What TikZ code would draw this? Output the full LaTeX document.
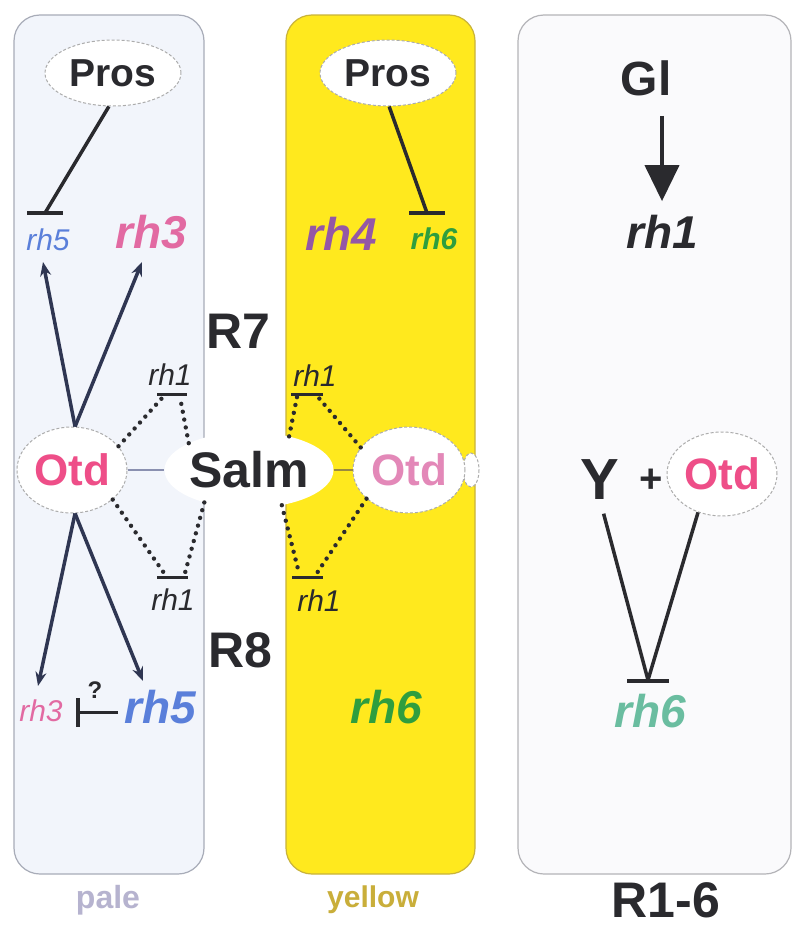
\documentclass[tikz,border=0pt]{standalone}
\usepackage{fontspec}
\setmainfont{Liberation Sans}
\usetikzlibrary{arrows.meta,shapes.geometric}

\definecolor{palefill}{HTML}{F2F5FB}
\definecolor{paleedge}{HTML}{A8ACB8}
\definecolor{yelfill}{HTML}{FFE91E}
\definecolor{yeledge}{HTML}{C9B33A}
\definecolor{rsfill}{HTML}{FAFAFC}
\definecolor{rsedge}{HTML}{B4B4B8}
\definecolor{ink}{HTML}{2A2A2E}
\definecolor{navy}{HTML}{2F3652}
\definecolor{otdpink}{HTML}{EE4E88}
\definecolor{otdpinkb}{HTML}{E388B8}
\definecolor{rhpink}{HTML}{E26AA2}
\definecolor{rhblue}{HTML}{5A7FDA}
\definecolor{rhpurple}{HTML}{9457A6}
\definecolor{rhgreen}{HTML}{2F9E3E}
\definecolor{rhteal}{HTML}{6ABDA0}
\definecolor{palelbl}{HTML}{B6B3CF}
\definecolor{yellbl}{HTML}{C9AE3A}
\definecolor{salmline}{HTML}{8A90B0}
\definecolor{olive}{HTML}{9A8A40}

\newcommand{\fsz}[1]{\fontsize{#1}{#1}\selectfont}

\begin{document}
\begin{tikzpicture}[x=1pt,y=-1pt,
  panel/.style={rounded corners=26pt, line width=1.2pt},
  oval/.style={ellipse, draw=gray!65, dashed, dash pattern=on 3pt off 2pt,
    line width=1pt, fill=white, inner sep=0pt},
  lbl/.style={inner sep=0pt, text=ink, font=\bfseries},
  rhbig/.style={inner sep=0pt, font=\fsz{46}\bfseries\itshape},
  rhsmall/.style={inner sep=0pt, font=\fsz{30}\itshape},
  act/.style={line width=3.5pt, draw=navy, -{Stealth[length=14pt,width=11pt]}},
  inh/.style={line width=3.5pt, draw=ink},
  dotl/.style={line width=4.4pt, draw=ink, line cap=round, dash pattern=on 0pt off 8pt},
  barl/.style={line width=3pt, draw=ink},
  vline/.style={line width=3.5pt, draw=ink}]

\useasboundingbox (0,0) rectangle (795,929);
\fill[white] (0,0) rectangle (795,929);

% panels
\draw[panel, fill=palefill, draw=paleedge] (14,15) rectangle (204,874);
\draw[panel, fill=yelfill, draw=yeledge] (286,15) rectangle (475,874);
\draw[panel, fill=rsfill, draw=rsedge] (518,15) rectangle (791,874);

% small bump right of yellow Otd
\draw[fill=white, draw=gray!65, dashed, dash pattern=on 3pt off 2pt, line width=1pt]
  (471,470) ellipse [x radius=8, y radius=17];

% ---------- pale ----------
\node[oval, minimum width=136pt, minimum height=66pt, font=\fsz{39}\bfseries, text=ink] (prosP) at (113,73) {Pros};
\node[rhsmall, text=rhblue] (rh5a) at (48,240) {rh5};
\node[rhbig, text=rhpink] (rh3a) at (151,232) {rh3};
\node[oval, minimum width=110pt, minimum height=86pt, font=\fsz{44}\bfseries, text=otdpink] (otdP) at (72,470) {Otd};
\node[rhsmall, text=ink] (rh1a) at (170,375) {rh1};
\node[rhsmall, text=ink] (rh1b) at (173,600) {rh1};
\node[rhsmall, text=rhpink] (rh3b) at (41,711) {rh3};
\node[rhbig, text=rhblue] (rh5b) at (160,707) {rh5};
\node[inner sep=0pt, font=\fsz{24}\bfseries, text=ink] (qm) at (95,690) {?};

\coordinate (tA) at (45,213);
\coordinate (aA) at (43,262);
\coordinate (aB) at (142,262);
\coordinate (aC) at (38,686);
\coordinate (aD) at (143,681);
\coordinate (b1l) at (163,397);
\coordinate (b1r) at (180,397);
\coordinate (b2l) at (164,573);
\coordinate (b2r) at (185,573);
\coordinate (q1) at (118,712);
\coordinate (q2) at (78,712);

\draw[inh] (prosP.-97) -- (tA);
\draw[barl, line width=3.5pt] (27,213) -- (63,213);
\draw[act] (otdP.86) -- (aA);
\draw[act] (otdP.86) -- (aB);
\draw[act] (otdP.-86) -- (aC);
\draw[act] (otdP.-86) -- (aD);
\draw[line width=3pt, draw=ink] (q1) -- (q2);
\draw[line width=3.5pt, draw=ink] (78,698) -- (78,727);

% ---------- yellow ----------
\node[oval, minimum width=136pt, minimum height=66pt, font=\fsz{39}\bfseries, text=ink] (prosY) at (388,73) {Pros};
\node[rhbig, text=rhpurple] (rh4) at (341,234) {rh4};
\node[rhsmall, text=rhgreen, font=\fsz{30}\bfseries\itshape] (rh6a) at (434,239) {rh6};
\node[oval, minimum width=112pt, minimum height=86pt, font=\fsz{44}\bfseries, text=otdpinkb] (otdY) at (409,470) {Otd};
\node[rhsmall, text=ink] (rh1c) at (315,376) {rh1};
\node[rhsmall, text=ink] (rh1d) at (319,601) {rh1};
\node[rhbig, text=rhgreen] (rh6b) at (386,707) {rh6};

\coordinate (tB) at (427,213);
\coordinate (c1l) at (297,397);
\coordinate (c1r) at (318,397);
\coordinate (c2l) at (299,573);
\coordinate (c2r) at (317,573);

\draw[inh] (prosY.-88) -- (tB);
\draw[barl, line width=3.5pt] (409,213) -- (445,213);

% ---------- Salm (covers panel edges) ----------
\node[ellipse, fill=white, inner sep=0pt, minimum width=142pt, minimum height=76pt,
  font=\fsz{50}\bfseries, text=ink] (salm) at (249,470) {Salm};

\draw[line width=1.5pt, draw=salmline] (otdP.east) -- (salm.west);
\draw[line width=1.5pt, draw=olive] (salm.east) -- (otdY.west);

% dotted repressions of rh1
\draw[dotl] (otdP.27) -- (b1l);
\draw[dotl] (salm.156) -- (b1r);
\draw[barl] (157,394) -- (187,394);
\draw[dotl] (otdP.-36) -- (b2l);
\draw[dotl] (salm.216) -- (b2r);
\draw[barl] (157,577) -- (188,577);

\draw[dotl] (salm.40) -- (c1l);
\draw[dotl] (otdY.155) -- (c1r);
\draw[barl] (291,394) -- (323,394);
\draw[dotl] (salm.-47) -- (c2l);
\draw[dotl] (otdY.214) -- (c2r);
\draw[barl] (292,577) -- (323,577);

% R7 / R8
\node[lbl, font=\fsz{50}\bfseries] (r7) at (238,331) {R7};
\node[lbl, font=\fsz{50}\bfseries] (r8) at (240,650) {R8};

% ---------- R1-6 ----------
\node[lbl, font=\fsz{48}\bfseries] (gl) at (646,78) {Gl};
\node[rhbig, text=ink] (rh1e) at (662,232) {rh1};
\draw[line width=4pt, draw=ink, -{Triangle[length=36pt,width=34pt]}, shorten <=20pt, shorten >=14pt] (gl.south -| rh1e.north) -- (rh1e.north);

\node[lbl, font=\fsz{58}\bfseries] (ynode) at (600,480) {Y};
\node[lbl, font=\fsz{40}\bfseries] (plus) at (651,481) {+};
\node[oval, minimum width=110pt, minimum height=84pt, font=\fsz{44}\bfseries, text=otdpink] (otdR) at (722,474) {Otd};
\node[rhbig, text=rhteal] (rh6c) at (650,711) {rh6};
\coordinate (tC) at (648,680);
\draw[vline, shorten <=14pt] (ynode.south) -- (tC);
\draw[vline] (otdR.238) -- (tC);
\draw[line width=3.5pt, draw=ink] (627,681) -- (669,681);

% bottom labels
\node[inner sep=0pt, font=\fsz{32}\bfseries, text=palelbl] (pale) at (108,900) {pale};
\node[inner sep=0pt, font=\fsz{30}\bfseries, text=yellbl] (yel) at (373,900) {yellow};
\node[lbl, font=\fsz{50}\bfseries] (r16) at (666,900) {R1-6};
\end{tikzpicture}
\end{document}
